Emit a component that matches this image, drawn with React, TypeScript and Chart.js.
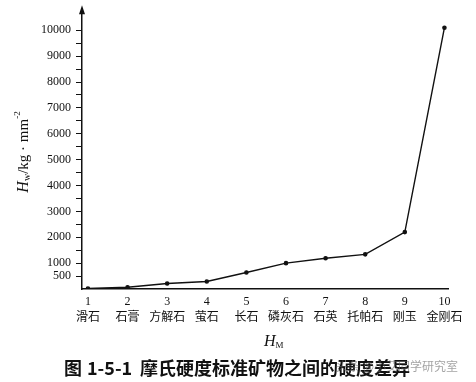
import React, { useEffect, useRef } from "react";
import { Chart, registerables } from "chart.js";

Chart.register(...registerables);

const mohsScale = [1, 2, 3, 4, 5, 6, 7, 8, 9, 10];
const minerals = ["滑石", "石膏", "方解石", "萤石", "长石", "磷灰石", "石英", "托帕石", "刚玉", "金刚石"];
const absoluteHardness = [20, 70, 210, 290, 640, 1000, 1190, 1340, 2200, 10100];
const yTickValues = [500, 1000, 1500, 2000, 2500, 3000, 3500, 4000, 4500, 5000, 5500, 6000, 6500, 7000, 7500, 8000, 8500, 9000, 9500, 10000];
const yLabelledTicks = [500, 1000, 2000, 3000, 4000, 5000, 6000, 7000, 8000, 9000, 10000];
const captionParts = ["图", "1-5-1", "摩氏硬度标准矿物之间的硬度差异"];
const watermark = "头条 @小艾同学研究室";

const SERIF = "'Liberation Serif', 'DejaVu Serif', 'Noto Sans CJK SC', serif";
const CJK = "'Noto Sans CJK SC', sans-serif";

const decorPlugin = {
  id: "decor",
  afterDraw(chart: any) {
    const ctx = chart.ctx as CanvasRenderingContext2D;
    const area = chart.chartArea;
    ctx.save();
    ctx.fillStyle = "#111";
    // arrow on y-axis top
    ctx.beginPath();
    ctx.moveTo(area.left, area.top - 7);
    ctx.lineTo(area.left - 3, area.top + 2);
    ctx.lineTo(area.left + 3, area.top + 2);
    ctx.closePath();
    ctx.fill();

    // y axis title
    ctx.save();
    ctx.translate(24, 152);
    ctx.rotate(-Math.PI / 2);
    ctx.textBaseline = "middle";
    ctx.textAlign = "left";
    const parts: [string, string, number][] = [
      ["H", "italic 16px " + SERIF, 0],
      ["w", "10px " + SERIF, 3],
      ["/kg · mm", "15px " + SERIF, 0],
      ["-2", "9px " + SERIF, -6],
    ];
    let total = 0;
    for (const [t, f] of parts) {
      ctx.font = f;
      total += ctx.measureText(t).width;
    }
    let x = -total / 2;
    for (const [t, f, dy] of parts) {
      ctx.font = f;
      ctx.fillText(t, x, dy);
      x += ctx.measureText(t).width;
    }
    ctx.restore();

    // x axis title
    ctx.textBaseline = "middle";
    ctx.textAlign = "left";
    ctx.font = "italic 16px " + SERIF;
    ctx.fillText("H", 264, 342);
    const hw = ctx.measureText("H").width;
    ctx.font = "9px " + SERIF;
    ctx.fillText("M", 264 + hw, 346);

    // caption
    ctx.font = "bold 18px " + CJK;
    ctx.fillText(captionParts[0], 64, 368);
    ctx.fillText(captionParts[1], 87, 368);
    ctx.fillText(captionParts[2], 140, 368);

    // watermark
    ctx.globalAlpha = 0.6;
    ctx.fillStyle = "#666";
    ctx.font = "12px " + CJK;
    ctx.fillText(watermark, 336, 366);
    ctx.restore();
  },
};

export default function App() {
  const ref = useRef<HTMLCanvasElement | null>(null);

  useEffect(() => {
    document.body.style.margin = "0";
    if (!ref.current) return;
    const chart = new Chart(ref.current, {
      type: "line",
      data: {
        datasets: [
          {
            data: mohsScale.map((m, i) => ({ x: m, y: absoluteHardness[i] })),
            borderColor: "#111",
            backgroundColor: "#111",
            borderWidth: 1.4,
            pointRadius: 1.6,
            pointBackgroundColor: "#111",
            tension: 0,
          },
        ],
      },
      options: {
        animation: false,
        responsive: false,
        layout: { padding: { top: 11, right: 28, left: 0, bottom: 0 } },
        plugins: { legend: { display: false }, tooltip: { enabled: false }, title: { display: false } },
        scales: {
          x: {
            type: "linear",
            min: 0.85,
            max: 10.09,
            afterFit: (s: any) => {
              s.height = 93;
            },
            afterBuildTicks: (s: any) => {
              s.ticks = mohsScale.map((v) => ({ value: v }));
            },
            grid: { display: false, drawTicks: false },
            border: { display: true, color: "#111", width: 1.5 },
            ticks: {
              color: "#111",
              padding: 4,
              maxRotation: 0,
              autoSkip: false,
              font: { family: SERIF, size: 12, lineHeight: 1.4 },
              callback: (v: any) => {
                const i = mohsScale.indexOf(Number(v));
                return i >= 0 ? [String(mohsScale[i]), minerals[i]] : "";
              },
            },
          },
          y: {
            type: "linear",
            min: 0,
            max: 10700,
            afterFit: (s: any) => {
              s.width = 82;
            },
            afterBuildTicks: (s: any) => {
              s.ticks = yTickValues.map((v) => ({ value: v }));
            },
            grid: { display: true, drawOnChartArea: false, drawTicks: true, tickLength: 6, color: "#111", lineWidth: 1 },
            border: { display: true, color: "#111", width: 1.5 },
            ticks: {
              color: "#111",
              padding: 5,
              autoSkip: false,
              font: { family: SERIF, size: 12 },
              callback: (v: any) => (yLabelledTicks.includes(Number(v)) ? String(v) : ""),
            },
          },
        },
      },
      plugins: [decorPlugin],
    } as any);
    return () => chart.destroy();
  }, []);

  return (
    <div style={{ width: 476, height: 382, background: "#fff" }}>
      <canvas ref={ref} width={476} height={382} style={{ width: 476, height: 382, display: "block" }} />
    </div>
  );
}
